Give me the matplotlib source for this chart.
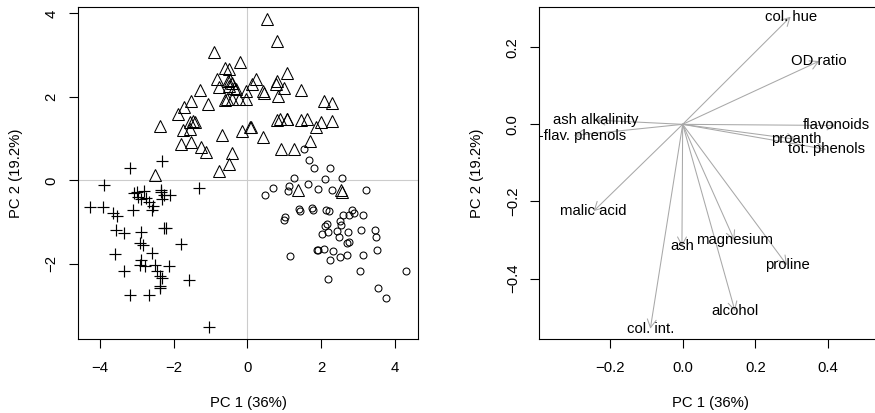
import numpy as np
import matplotlib
matplotlib.use("Agg")
import matplotlib.pyplot as plt

plt.rcParams['font.family'] = ['Liberation Sans', 'DejaVu Sans']
plt.rcParams['font.size'] = 10.7

# PCA scores of the wine samples, by cultivar
class1_pc1 = [1.53, 1.68, 1.80, 2.23, 1.26, 2.11, 2.57,
              1.12, 1.10, 0.47, 0.70, 1.64, 1.92, 2.28, 3.22,
              1.39, 1.42, 1.75, 1.78, 2.13, 2.21, 2.59, 2.84, 2.88, 2.75, 3.12,
              1.01, 0.99, 2.52, 2.54, 2.16, 2.11,
              2.19, 2.02, 2.43, 2.73, 2.47, 2.70, 2.75, 3.08, 3.47, 3.49,
              3.50, 3.13, 2.70, 2.52, 2.31, 2.23, 2.07, 1.89, 1.91, 1.15,
              3.04, 4.30, 2.17, 3.53, 3.76]
class1_pc2 = [0.74, 0.49, 0.30, 0.30, 0.06, 0.04, 0.06,
              -0.14, -0.25, -0.34, -0.19, -0.09, -0.21, -0.22, -0.22,
              -0.69, -0.74, -0.66, -0.71, -0.71, -0.73, -0.83, -0.71, -0.79, -0.83, -0.83,
              -0.87, -0.94, -0.97, -1.07, -1.05, -1.09,
              -1.23, -1.28, -1.21, -1.23, -1.36, -1.51, -1.47, -1.19, -1.19, -1.36,
              -1.67, -1.79, -1.79, -1.83, -1.70, -1.91, -1.65, -1.67, -1.67, -1.80,
              -2.17, -2.16, -2.37, -2.57, -2.81]

class2_pc1 = [0.53, 0.80, -0.90, -0.21, -0.62, -0.50, 1.08, -0.82, 0.24, -0.46,
              -0.52, -0.43, 0.80, 0.13, -0.78, -0.50, -0.37, -0.30, 0.99, 0.78,
              0.42, 0.44, 1.46, -1.29, -0.04, 0.83, -0.60, -0.43, -0.24, -0.05,
              -0.55, -1.52, -1.07, -1.73, -1.88, 2.07, 2.30, -1.55, -1.47, -1.41,
              -1.75, -1.55, -2.38, -0.14, 0.06, 0.10, -0.69, 0.42, 0.79, 0.88,
              1.06, 1.46, 1.62, 1.87, 2.00, 2.30, 1.08, -1.81, -1.54, -1.27,
              -1.13, -0.42, -0.51, -0.78, 0.92, 1.26, 1.69, -2.51, 1.37, 2.54,
              2.57]
class2_pc2 = [3.86, 3.35, 3.08, 2.84, 2.68, 2.66, 2.56, 2.44, 2.43, 2.40,
              2.37, 2.33, 2.37, 2.32, 2.24, 2.25, 2.22, 2.18, 2.22, 2.32,
              2.14, 2.10, 2.16, 2.16, 2.14, 2.02, 1.92, 1.96, 1.94, 1.94,
              1.94, 1.90, 1.82, 1.75, 1.59, 1.90, 1.86, 1.40, 1.43, 1.40,
              1.20, 1.24, 1.30, 1.19, 1.27, 1.28, 1.08, 1.04, 1.44, 1.48,
              1.46, 1.44, 1.48, 1.28, 1.39, 1.43, 1.47, 0.87, 0.91, 0.79,
              0.69, 0.65, 0.39, 0.22, 0.76, 0.76, 0.95, 0.14, -0.23, -0.22,
              -0.29]

class3_pc1 = [-3.17, -2.32, -3.88, -1.30, -4.28, -3.92, -3.65, -3.54, -3.11, -3.08,
              -2.99, -2.81, -2.97, -2.88, -2.75, -2.66, -2.56, -2.59, -2.33, -2.27,
              -2.11, -2.31, -2.33, -2.27, -2.21, -3.56, -3.35, -2.88, -2.92, -2.83,
              -3.59, -2.59, -1.81, -2.88, -2.90, -2.77, -2.51, -2.13, -2.45, -2.38,
              -2.31, -3.35, -1.59, -2.38, -2.38, -3.19, -2.68, -1.05]
class3_pc2 = [0.29, 0.47, -0.12, -0.18, -0.63, -0.63, -0.79, -0.85, -0.71, -0.31,
              -0.29, -0.25, -0.39, -0.45, -0.43, -0.51, -0.61, -0.71, -0.29, -0.35,
              -0.35, -0.45, -0.23, -1.15, -1.14, -1.20, -1.27, -1.23, -1.51, -1.55,
              -1.76, -1.74, -1.52, -1.90, -2.02, -2.06, -2.02, -2.06, -2.18, -2.29,
              -2.34, -2.18, -2.38, -2.54, -2.59, -2.74, -2.74, -3.51]

# variable loadings on PC1 / PC2
variables = ['alcohol', 'malic acid', 'ash', 'ash alkalinity', 'magnesium',
             'tot. phenols', 'flavonoids', 'non-flav. phenols', 'proanth',
             'col. int.', 'col. hue', 'OD ratio', 'proline']
load_pc1 = [0.144, -0.245, -0.002, -0.239, 0.142, 0.395, 0.423, -0.299,
            0.313, -0.089, 0.297, 0.376, 0.287]
load_pc2 = [-0.484, -0.225, -0.316, 0.011, -0.300, -0.065, -0.003, -0.029,
            -0.039, -0.530, 0.279, 0.164, -0.365]

xlab = 'PC 1 (36%)'
ylab = 'PC 2 (19.2%)'

# small nudges (points) for a few loading labels
label_nudge = {'non-flav. phenols': (-2.5, 0)}

W, H = 875, 413
fig = plt.figure(figsize=(W / 100, H / 100), dpi=100)

# axes boxes in pixel terms
top, bottom = 6.7, 339.0
ax1 = fig.add_axes([77.7 / W, (H - bottom) / H, (418.3 - 77.7) / W, (bottom - top) / H])
ax2 = fig.add_axes([539.3 / W, (H - bottom) / H, (882 - 539.3) / W, (bottom - top) / H])

for ax in (ax1, ax2):
    for s in ax.spines.values():
        s.set_linewidth(0.8)
    ax.tick_params(direction='out', length=6.5, width=0.8)
    ax.tick_params(axis='x', pad=9.5)
    ax.tick_params(axis='y', pad=7.5)
    ax.set_xlabel(xlab)
    ax.set_ylabel(ylab)
    ax.xaxis.set_label_coords(0.5, -0.172)
    ax.yaxis.set_label_coords(-0.16, 0.5)

# scores plot
ax1.axhline(0, color='#cccccc', lw=0.8, zorder=0)
ax1.axvline(0, color='#cccccc', lw=0.8, zorder=0)
ax1.plot(class1_pc1, class1_pc2, 'o', ms=5, mfc='none', mec='black', mew=0.75)
ax1.plot(class2_pc1, class2_pc2, '^', ms=8, mfc='none', mec='black', mew=0.75)
ax1.plot(class3_pc1, class3_pc2, '+', ms=8.5, mec='black', mew=0.85)
ax1.set_xlim(-4.6, 4.63)
ax1.set_ylim(-3.80, 4.16)
ax1.set_xticks([-4, -2, 0, 2, 4])
ax1.set_yticks([-2, 0, 2, 4])
ax1.set_xticklabels(['\u22124', '\u22122', '0', '2', '4'])
ax1.set_yticklabels(['\u22122', '0', '2', '4'], rotation=90, va='center')

# loadings plot
for name, x, y in zip(variables, load_pc1, load_pc2):
    ax2.annotate('', xy=(x, y), xytext=(0, 0),
                 arrowprops=dict(arrowstyle='->,head_length=0.55,head_width=0.3',
                                 color='#a8a8a8', lw=0.75, shrinkA=0, shrinkB=0))
for name, x, y in zip(variables, load_pc1, load_pc2):
    dx, dy = label_nudge.get(name, (0, 0))
    ax2.annotate(name, (x, y), xytext=(dx, dy), textcoords='offset points',
                 ha='center', va='center', annotation_clip=False, clip_on=True)
ax2.set_xlim(-0.3945, 0.5485)
ax2.set_ylim(-0.5566, 0.305)
ax2.set_xticks([-0.2, 0.0, 0.2, 0.4])
ax2.set_yticks([-0.4, -0.2, 0.0, 0.2])
ax2.set_xticklabels(['\u22120.2', '0.0', '0.2', '0.4'])
ax2.set_yticklabels(['\u22120.4', '\u22120.2', '0.0', '0.2'], rotation=90, va='center')

fig.savefig('out.png', dpi=100)
